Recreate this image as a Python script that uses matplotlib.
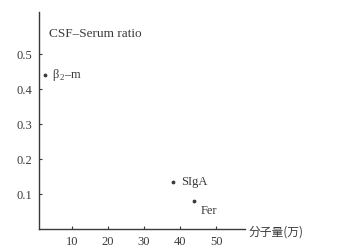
import matplotlib; matplotlib.use('Agg')
import matplotlib.pyplot as plt

names = ['β$_{\\,2}$–m', 'SIgA', 'Fer']
mw = [2.5, 38.0, 44.0]            # 分子量 (万)
ratio = [0.44, 0.135, 0.08]       # CSF-Serum ratio
xticks = [10, 20, 30, 40, 50]
yticks = [0.1, 0.2, 0.3, 0.4, 0.5]
label_off = [(2.0, 0.0), (2.4, 0.0), (1.8, -0.027)]

plt.rcParams['font.family'] = ['Liberation Serif', 'Noto Sans CJK SC']
plt.rcParams['mathtext.fontset'] = 'custom'
plt.rcParams['mathtext.rm'] = 'Liberation Serif'
ink = '#3a3a3a'

fig = plt.figure(figsize=(3.57, 2.52), dpi=100)
ax = fig.add_axes([0.109, 0.091, 0.577, 0.861])
ax.scatter(mw, ratio, s=3, color=ink, zorder=3)
for x, y, n, (dx, dy) in zip(mw, ratio, names, label_off):
    ax.text(x + dx, y + dy, n, fontsize=9, color=ink, va='center', ha='left')

ax.set_xlim(0.8, 58)
ax.set_ylim(0, 0.62)
ax.set_xticks(xticks)
ax.set_yticks(yticks)
ax.set_xticklabels([str(t) for t in xticks])
ax.set_yticklabels([f'{t:.1f}' for t in yticks])
for s in ['top', 'right']:
    ax.spines[s].set_visible(False)
for s in ['left', 'bottom']:
    ax.spines[s].set_color(ink)
    ax.spines[s].set_linewidth(1.0)
ax.tick_params(direction='in', length=2.5, width=0.8, colors=ink, labelsize=9, pad=5)

ax.text(0.05, 0.9, 'CSF–Serum ratio', transform=ax.transAxes, fontsize=9.5, color=ink, va='center')
fig.text(0.697, 0.078, '分子量(万)', fontsize=8.5, color=ink, va='center',
         family=['Noto Sans CJK SC', 'Liberation Serif'])

fig.savefig('out.png', dpi=100, facecolor='white')
